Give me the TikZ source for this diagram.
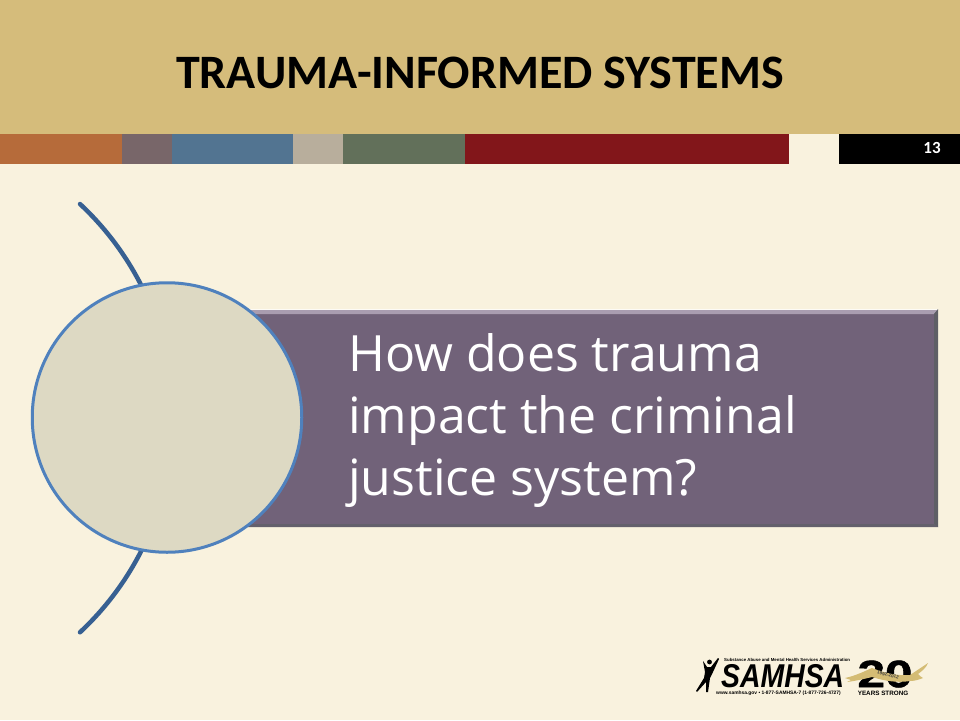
\documentclass[tikz,border=0pt]{standalone}
\usepackage{fontspec}
\setmainfont{Carlito}
\newfontfamily\bodyfont{Open Sans}
\newfontfamily\logofont{Liberation Sans}
\newfontfamily\samhsafont[FakeStretch=0.86]{Liberation Sans}
\newfontfamily\twentyfont[FakeStretch=1.3,FakeBold=1.5]{Liberation Sans Bold}
\usetikzlibrary{positioning}
\definecolor{pagebg}{HTML}{F9F2DE}
\definecolor{headbg}{HTML}{D5BC7B}
\definecolor{plum}{HTML}{716279}
\definecolor{plumhi}{HTML}{A99DB0}
\definecolor{plumlo}{HTML}{5F5F66}
\definecolor{disc}{HTML}{DDD9C3}
\definecolor{discline}{HTML}{4F81BD}
\definecolor{arcline}{HTML}{376092}
\definecolor{ribbon}{HTML}{D4BC74}

\begin{document}
\begin{tikzpicture}[
			x=1pt, y=-1pt,
			title/.style={font={\fontsize{48}{54}\selectfont\bfseries}, inner sep=0pt},
			pageno/.style={font={\fontsize{17}{20}\selectfont\bfseries}, text=white, inner sep=0pt},
			question/.style={font={\bodyfont\fontsize{50}{62}\selectfont}, text=white, align=left, inner sep=0pt, anchor=west},
			logotext/.style={font={\logofont\bfseries\fontsize{#1}{#1}\selectfont}, inner sep=0pt}
	]
	\useasboundingbox (0,0) rectangle (960,720);
	\fill[pagebg] (0,0) rectangle (960,720);
	\fill[headbg] (0,0) rectangle (960,134);
% >> colour strip
	\foreach \xa/\xb/\bandcol in {0/122/B66B3A, 122/172/786669, 172/293/527491, 293/343/B8AE9C, 343/465/62705A, 465/789/82161A, 839/960/000000} {
		\definecolor{bandtmp}{HTML}{\bandcol}
		\fill[bandtmp] (\xa,134) rectangle (\xb,163.5);
	}
	\node[title] (heading) at (480,73) {TRAUMA-INFORMED SYSTEMS};
	\node[pageno] (pagenum) at (932,148) {13};

% >> arc, bar and disc
	\coordinate (arcTop) at (80,204);
	\draw[arcline, line width=4.5pt, line cap=round] (arcTop) arc[start angle=-47, end angle=47, radius=292.8] coordinate (arcBottom);
	\fill[white!70!pagebg] (248,308.5) rectangle (938,311);
	\fill[plum] (248,310) rectangle (938,527);
	\fill[plumhi] (248,310) -- (938,310) -- (934,314) -- (248,314) -- cycle;
	\fill[plumlo] (938,309) -- (938,527) -- (934,524) -- (934,314) -- cycle;
	\fill[plumlo!70!plum] (248,527) -- (938,527) -- (934,524) -- (248,524) -- cycle;
	\node[question] (asked) at (348,421) {How does trauma\\impact the criminal\\justice system?};
	\node[circle, draw=discline, fill=disc, line width=3pt, minimum size=269.5pt, inner sep=0pt] (hub) at (167,417.5) {};

% >> logo
	\fill[black] (703,661) -- (707,667) -- (711,667) -- (718,658) -- (719,659) -- (713,672) -- (710,678) -- (708,692) -- (706,692) -- (706,682) -- (697,692) -- (696,691) -- (704,678) -- (705,672) -- cycle;
	\fill[black] (709.5,662) circle[radius=2.4];
	\node[logotext=4.35, anchor=west] (agency) at (724,659.5) {Substance Abuse and Mental Health Services Administration};
	\node[logotext=33, anchor=west, font={\samhsafont\bfseries\itshape\fontsize{33}{33}\selectfont}] (samhsa) at (721,676) {SAMHSA};
	\node[logotext=4.9, anchor=west] (contact) at (716,693.5) {www.samhsa.gov • 1-877-SAMHSA-7 (1-877-726-4727)};
	\node[logotext=38, font={\twentyfont\fontsize{38}{38}\selectfont}] (twenty) at (885,674) {20};
	\fill[ribbon] (845,678) .. controls (855,676) and (865,671) .. (872,668) .. controls (885,673) and (897,676) .. (910,675) .. controls (916,671) and (922,667) .. (928,663) .. controls (926,668) and (922,671) .. (918,674) .. controls (920,676) and (921,677) .. (923,678) .. controls (918,680) and (914,681) .. (910,681) .. controls (897,683) and (885,681) .. (872,677) .. controls (864,679) and (855,681) .. (847,682) -- (851,680) -- cycle;
	\node[logotext=4.6, rotate=-14, text=black!75] (years) at (888,675) {1992-2012};
	\node[logotext=6.3] (strong) at (883,693.5) {YEARS STRONG};
\end{tikzpicture}
\end{document}
